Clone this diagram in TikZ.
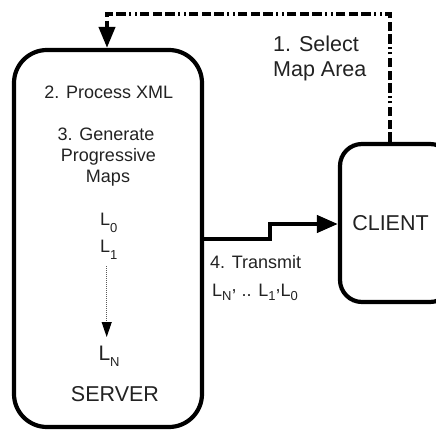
\documentclass[tikz,border=0pt]{standalone}
\usepackage{fontspec}
\setmainfont{Liberation Sans}
\usetikzlibrary{arrows.meta}
\definecolor{ink}{HTML}{222222}
\newcommand\Lsub[3]{L\raisebox{-#2}{\fontsize{#3}{#3}\selectfont #1}}
\newcommand\rcomma{\raisebox{5pt}{,}}
\begin{document}
\begin{tikzpicture}[x=1pt,y=-1pt,
  box/.style={draw=black,line width=4.2pt,rounded corners=#1,inner sep=0pt},
  lbl/.style={font=\fontsize{18}{21}\selectfont,text=ink,inner sep=0pt,anchor=base},
  big/.style={font=\fontsize{21.5}{25}\selectfont,text=ink,inner sep=0pt,anchor=base},
  sel/.style={draw=black,line width=4pt,
    dash pattern=on 9.5pt off 3.3pt on 9.5pt off 3.3pt on 9.5pt off 3.3pt on 2pt off 3.3pt on 2pt off 3.3pt,
    -{Triangle[length=21pt,width=16pt]}},
  tx/.style={draw=black,line width=4.2pt,line join=miter,-{Triangle[length=21pt,width=17pt]}},
  dots/.style={draw=gray!70!black,line width=1pt,dash pattern=on 1pt off 1pt,
    -{Triangle[length=15pt,width=10pt,color=black]}}]
\useasboundingbox (0,0) rectangle (436,430);
\clip (0,0) rectangle (436,430);
% boxes
\node[box=33,minimum width=188pt,minimum height=377pt] (server) at (108,238.5) {};
\node[box=22,minimum width=112pt,minimum height=158pt] (client) at (396,223) {};
% labels
\node[big,anchor=base west] (sel1) at (273,52) {1. Select};
\node[big,anchor=base west] (sel2) at (273,77) {Map Area};
\node[lbl] (proc) at (108.8,99) {2. Process XML};
\node[lbl] (gen1) at (106,141) {3. Generate};
\node[lbl] (gen2) at (108.5,162) {Progressive};
\node[lbl] (gen3) at (108,183) {Maps};
\node[lbl,anchor=base west] (l0) at (100,226) {\Lsub{0}{6pt}{13}};
\node[lbl,anchor=base west] (l1) at (100,253) {\Lsub{1}{6pt}{13}};
\node[lbl,anchor=base west,font=\fontsize{21}{21}\selectfont] (ln) at (98.3,360) {\Lsub{N}{6pt}{13}};
\node[big] (srvlbl) at (115,401.7) {SERVER};
\node[big] (clilbl) at (390.5,230.7) {CLIENT};
\node[lbl,anchor=base west] (tr1) at (210,269) {4. Transmit};
\node[lbl,anchor=base west] (tr2) at (212,296.5) {\Lsub{N}{3.5pt}{13}\rcomma{} .. \Lsub{1}{3.5pt}{13}\rcomma\Lsub{0}{3.5pt}{13}};
% connectors
\coordinate (tR) at (390,14);
\coordinate (tL) at (107,14);
\draw[sel] (tR |- client.north) -- (tR) -- (tL) -- (tL |- server.north);
\coordinate (kA) at (270,239);
\coordinate (kB) at (270,224);
\draw[tx] (server.east |- kA) -- (kA) -- (kB) -- (client.west |- kB);
\coordinate (dA) at (106.7,266);
\coordinate (dB) at (106.7,337);
\draw[dots] (dA) -- (dB);
\end{tikzpicture}
\end{document}
